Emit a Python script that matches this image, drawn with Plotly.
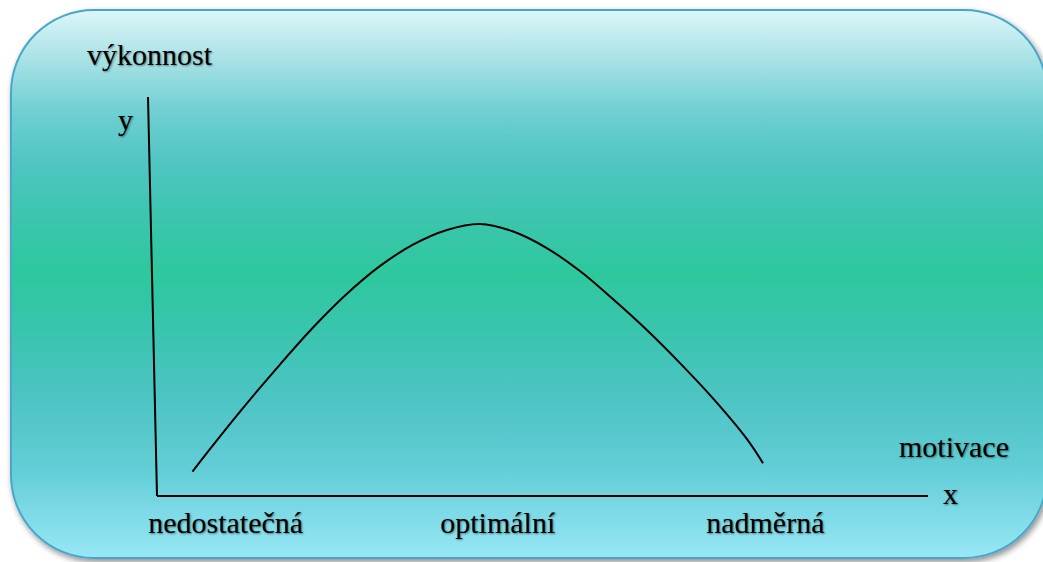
import base64
import plotly.graph_objects as go

W, H = 1043, 562

# Performance curve (motivation on x, performance on y, both 0-100)
motivace = [4.6, 7.3, 11.6, 16.0, 20.3, 24.6, 28.9, 33.2, 37.6, 41.9,
            46.2, 50.5, 54.9, 59.2, 63.5, 67.8, 72.2, 76.5, 78.6]
vykonnost = [5.9, 12.6, 22.9, 32.9, 42.2, 50.5, 57.5, 62.9, 66.6, 68.1,
             66.2, 62.1, 56.2, 49.1, 41.5, 33.2, 24.1, 14.1, 8.0]

# Category labels along the motivation axis
kategorie = ["nedostatečná", "optimální", "nadměrná"]
kategorie_pos = [8.9, 44.2, 78.9]

# Plot-area placement in pixels
X0, X1 = 157, 928
Y0, Y1 = 495, 97

# Rounded gradient panel behind everything
stops = [(0.00, "#DDF6F9"), (0.09, "#A8E2E6"), (0.18, "#72D0D3"),
         (0.27, "#52C6C4"), (0.37, "#3DC5B0"), (0.48, "#2DC89D"),
         (0.58, "#38C5AE"), (0.71, "#4DC4C4"), (0.84, "#63CED7"),
         (1.00, "#98E7F6")]
stop_xml = "".join(f"<stop offset='{o}' stop-color='{c}'/>" for o, c in stops)
svg = (
    f"<svg xmlns='http://www.w3.org/2000/svg' width='{W}' height='{H}' viewBox='0 0 {W} {H}'>"
    "<defs>"
    f"<linearGradient id='g' x1='0' y1='0' x2='0' y2='1'>{stop_xml}</linearGradient>"
    "<filter id='s' x='-5%' y='-5%' width='112%' height='115%'>"
    "<feGaussianBlur in='SourceAlpha' stdDeviation='3'/>"
    "<feOffset dx='2' dy='3' result='o'/>"
    "<feComponentTransfer><feFuncA type='linear' slope='0.45'/></feComponentTransfer>"
    "<feMerge><feMergeNode/><feMergeNode in='SourceGraphic'/></feMerge>"
    "</filter></defs>"
    "<rect x='11' y='10' width='1036' height='548' rx='83' ry='83' fill='url(#g)' "
    "stroke='#49A6C8' stroke-width='2' filter='url(#s)'/>"
    "</svg>"
)
bg_uri = "data:image/svg+xml;base64," + base64.b64encode(svg.encode()).decode()


def px(x):
    return x / W


def py(y):
    return 1 - y / H


FONT = "Liberation Serif, Times New Roman, serif"
SHADOW = "1px 1px 2px rgba(0,0,0,0.45)"
SIZE = 30

fig = go.Figure()
fig.add_trace(go.Scatter(
    x=motivace, y=vykonnost, mode="lines",
    line=dict(color="black", width=2, shape="spline", smoothing=1.0),
    hoverinfo="skip", showlegend=False,
))

fig.update_layout(
    template="none",
    width=W, height=H,
    margin=dict(l=0, r=0, t=0, b=0, pad=0, autoexpand=False),
    paper_bgcolor="white",
    plot_bgcolor="rgba(0,0,0,0)",
    showlegend=False,
    xaxis=dict(
        domain=[px(X0), px(X1)], range=[0, 100], automargin=False,
        showgrid=False, zeroline=False,
        showline=True, linecolor="black", linewidth=2,
        ticks="", tickvals=kategorie_pos, ticktext=kategorie,
        tickfont=dict(family=FONT, size=SIZE, color="black", shadow=SHADOW),
        fixedrange=True,
    ),
    yaxis=dict(
        domain=[py(Y0), py(Y1)], range=[0, 100], automargin=False,
        showgrid=False, zeroline=False, showline=False,
        showticklabels=False, ticks="", fixedrange=True,
    ),
    images=[dict(
        source=bg_uri, xref="paper", yref="paper", x=0, y=1,
        sizex=1, sizey=1, sizing="stretch", layer="below",
        xanchor="left", yanchor="top",
    )],
    shapes=[dict(
        type="line", xref="paper", yref="paper",
        x0=px(X0), y0=py(Y0 + 1), x1=px(148), y1=py(Y1),
        line=dict(color="black", width=2),
    )],
)

labels = [
    ("výkonnost", 150, 55),
    ("y", 125, 120),
    ("motivace", 954, 446),
    ("x", 950, 493),
]
for txt, lx, ly in labels:
    fig.add_annotation(
        text=txt, xref="paper", yref="paper", x=px(lx), y=py(ly),
        xanchor="center", yanchor="middle", showarrow=False,
        font=dict(family=FONT, size=SIZE, color="black", shadow=SHADOW),
    )

fig.write_html("out.html")
